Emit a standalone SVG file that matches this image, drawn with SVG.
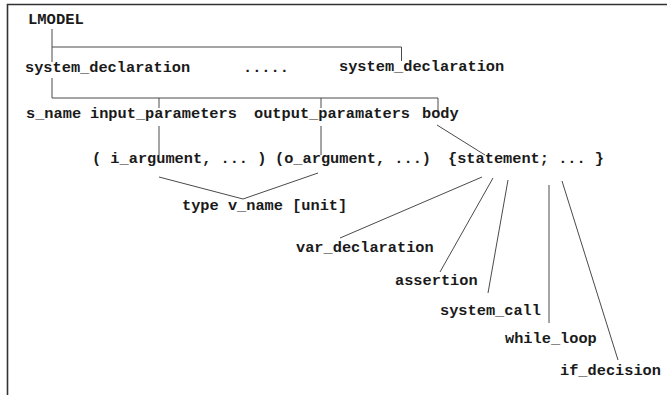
<svg xmlns="http://www.w3.org/2000/svg" width="667" height="395" viewBox="0 0 667 395">
<style>
text{font-family:"Liberation Mono","Courier New",monospace;font-weight:bold;font-size:15.3px;fill:#1a1a1a}
.c line,.c polyline{stroke:#4a4a4a;stroke-width:1;fill:none}
.f{stroke:#333;stroke-width:1.6;fill:none}
</style>
<rect width="667" height="395" fill="#fff"/>
<polyline class="f" points="7.5,395 7.5,4.5 667,4.5"/>
<g class="c" id="connectors">
<line x1="52" y1="29" x2="52" y2="62"/>
<line x1="52" y1="78" x2="52" y2="98"/>
<polyline points="52,47 401.5,47 401.5,61"/>
<polyline points="52,98 438,98 438,113"/>
<line x1="159" y1="98" x2="159" y2="108"/>
<line x1="321" y1="98" x2="321" y2="108"/>
<line x1="159" y1="126" x2="159" y2="155"/>
<line x1="321" y1="126" x2="321" y2="155"/>
<line x1="437" y1="125" x2="485" y2="155"/>
<line x1="159" y1="177" x2="243" y2="199"/>
<line x1="318" y1="173" x2="243" y2="199"/>
<line x1="482" y1="177" x2="340" y2="238"/>
<line x1="493" y1="178" x2="440" y2="272"/>
<line x1="508" y1="180" x2="488" y2="293"/>
<line x1="549" y1="185" x2="549" y2="323"/>
<line x1="562" y1="181" x2="618" y2="360"/>
</g>
<g id="lmodel"><text x="28" y="24" style="font-size:15.5px">LMODEL</text></g>
<g id="sysdecl1"><text x="25" y="72">system_declaration</text></g>
<g id="dots"><text x="243" y="72">.....</text></g>
<g id="sysdecl2"><text x="339" y="71">system_declaration</text></g>
<g id="sname"><text x="26" y="118">s_name</text></g>
<g id="input"><text x="90" y="118">input_parameters</text></g>
<g id="output"><text x="254" y="118">output_paramaters</text></g>
<g id="body"><text x="422" y="118">body</text></g>
<g id="iarg"><text x="92" y="163">( i_argument, ... )</text></g>
<g id="oarg"><text x="275" y="163">(o_argument, ...)</text></g>
<g id="stmt"><text x="448" y="163">{statement; ... }</text></g>
<g id="type"><text x="182" y="210">type v_name [unit]</text></g>
<g id="vardecl"><text x="296" y="252">var_declaration</text></g>
<g id="assertion"><text x="395" y="285">assertion</text></g>
<g id="syscall"><text x="440" y="315">system_call</text></g>
<g id="while"><text x="505" y="343">while_loop</text></g>
<g id="ifdec"><text x="560" y="375">if_decision</text></g>
</svg>
